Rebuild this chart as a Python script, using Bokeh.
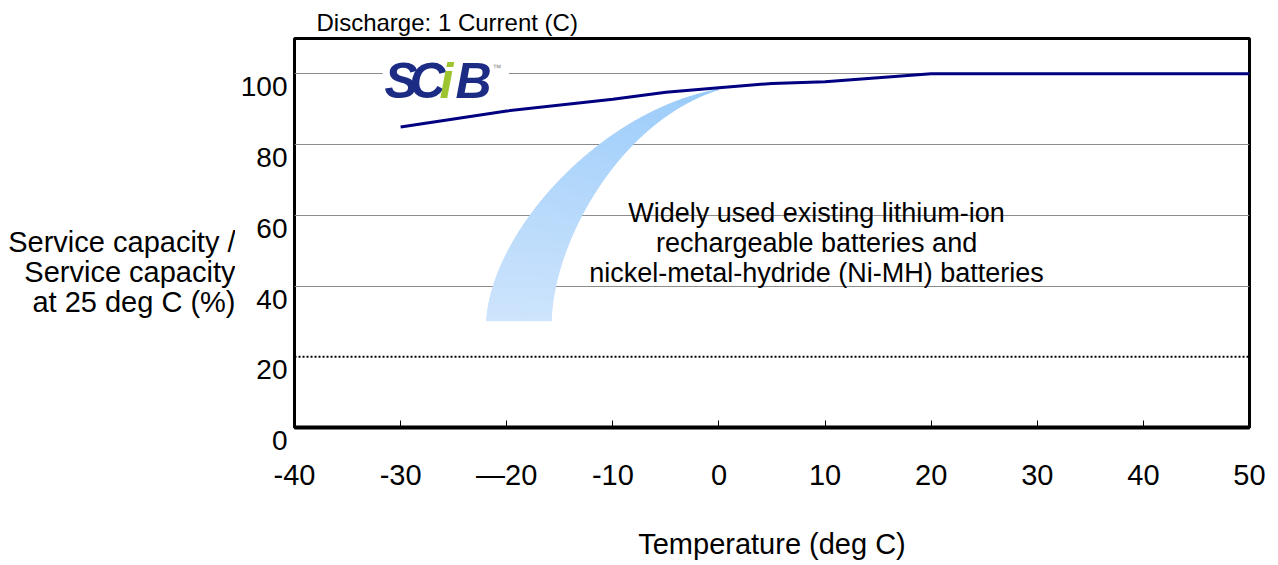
import numpy as np
from bokeh.plotting import figure
from bokeh.layouts import row
from bokeh.models import (Range1d, FixedTicker, Grid, Span, Label, LinearAxis,
                          BoxAnnotation)
from bokeh.core.properties import value
from bokeh.embed import file_html
from bokeh.resources import INLINE

# ---------------- data ----------------
temps = [-30, -20, -10, -5, 0, 5, 10, 20, 30, 40, 50]
scib_capacity = [85.0, 89.5, 92.8, 94.8, 96.1, 97.3, 97.8, 100.0, 100.0, 100.0, 100.0]

x_ticks = [-40, -30, -20, -10, 0, 10, 20, 30, 40, 50]
x_tick_labels = ["-40", "-30", "\u201420", "-10", "0", "10", "20", "30", "40", "50"]
y_ticks = [0, 20, 40, 60, 80, 100]
y_tick_labels = ["0", "20", "40", "60", "80", "100"]
grid_levels = [40, 60, 80, 100]
threshold_level = 20

title_text = "Discharge: 1 Current (C)"
x_title = "Temperature (deg C)"
y_title = "Service capacity /\nService capacity\nat 25 deg C (%)"
note_text = ("Widely used existing lithium-ion\nrechargeable batteries and\n"
             "nickel-metal-hydride (Ni-MH) batteries")

FONT = "Liberation Sans"

# ---------------- layout geometry ----------------
W, H = 1278, 565
LEFT_W = 235            # left panel that holds the y title
FRAME_LEFT = 294
FRAME_RIGHT = 1249
FRAME_TOP = 38
FRAME_BOTTOM = 427
Y0, Y1 = 0, 110
LABEL_DROP_PX = 13      # y tick labels sit a little below their grid lines
Y_LABEL_GAP = 7

# ---------------- main figure ----------------
main_w = W - LEFT_W
p = figure(width=main_w, height=H, x_range=Range1d(-40, 50), y_range=Range1d(Y0, Y1),
           output_backend="svg", toolbar_location=None, y_axis_location=None,
           min_border_left=FRAME_LEFT - LEFT_W, min_border_right=W - FRAME_RIGHT,
           min_border_top=FRAME_TOP, min_border_bottom=H - FRAME_BOTTOM)
p.outline_line_color = "black"
p.outline_line_width = 3
p.xgrid.visible = False
p.ygrid.visible = False
p.background_fill_color = "white"
p.border_fill_color = "white"

p.title.text = title_text
p.title.align = "left"
p.title.offset = 22
p.title.standoff = 6
p.title.text_font = FONT
p.title.text_font_size = "24px"
p.title.text_font_style = "normal"
p.title.text_color = "black"

xa = p.xaxis[0]
xa.ticker = FixedTicker(ticks=x_ticks)
xa.major_label_overrides = {t: l for t, l in zip(x_ticks, x_tick_labels)}
xa.major_label_text_font = FONT
xa.major_label_text_font_size = "29px"
xa.major_label_text_color = "black"
xa.major_label_standoff = 31
xa.axis_line_color = "black"
xa.axis_line_width = 4
xa.major_tick_in = 7
xa.major_tick_out = 0
xa.major_tick_line_color = "black"
xa.major_tick_line_width = 1
xa.minor_tick_line_color = None
xa.axis_label = x_title
xa.axis_label_text_font = FONT
xa.axis_label_text_font_size = "29px"
xa.axis_label_text_font_style = "normal"
xa.axis_label_text_color = "black"
xa.axis_label_standoff = 34

# y axis: labels drawn through a slightly shifted range so they sit below the grid lines
ppu = (FRAME_BOTTOM - FRAME_TOP) / (Y1 - Y0)
shift = LABEL_DROP_PX / ppu
p.extra_y_ranges = {"ylab": Range1d(Y0 + shift, Y1 + shift)}
ya = LinearAxis(y_range_name="ylab", ticker=FixedTicker(ticks=y_ticks),
                major_label_overrides={t: l for t, l in zip(y_ticks, y_tick_labels)},
                axis_line_color=None, major_tick_line_color=None, minor_tick_line_color=None,
                major_tick_in=0, major_tick_out=0, minor_tick_in=0, minor_tick_out=0,
                major_label_standoff=Y_LABEL_GAP, major_label_text_font=FONT,
                major_label_text_font_size="28px", major_label_text_color="black")
p.add_layout(ya, "left")
# the bottom tick label ("0") falls below the shifted range, so it is drawn as a label
p.add_layout(Label(x=-40, y=y_ticks[0], x_offset=-Y_LABEL_GAP, y_offset=-LABEL_DROP_PX,
                   text=y_tick_labels[0], text_font=FONT, text_font_size="28px",
                   text_color="black", text_align="right", text_baseline="middle"), "right")

# horizontal grid lines and the dotted 20 % line
p.add_layout(Grid(dimension=1, ticker=FixedTicker(ticks=grid_levels),
                  grid_line_color="#8c8c8c", grid_line_width=1))
p.add_layout(Span(location=threshold_level, dimension="width", line_color="black",
                  line_width=2, line_dash="2 2"))

# ---------------- curved gradient band (decorative arrow) ----------------
def bez(P, t):
    P = np.asarray(P, dtype=float)
    t = t[:, None]
    return ((1 - t) ** 3 * P[0] + 3 * t * (1 - t) ** 2 * P[1]
            + 3 * t ** 2 * (1 - t) * P[2] + t ** 3 * P[3])

outer_ctrl = [(-21.9, 30.2), (-21.35, 55.7), (-11.15, 89.6), (0.0, 95.6)]
inner_ctrl = [(-15.8, 30.2), (-15.6, 52.9), (-9.3, 86.8), (0.0, 95.6)]
nseg = 48
ts = np.linspace(0, 1, nseg + 1)
O = bez(outer_ctrl, ts)
I = bez(inner_ctrl, ts)
c_bottom = np.array([206, 228, 252])
c_top = np.array([150, 202, 250])
bx, by, bc = [], [], []
for k in range(nseg):
    bx.append([O[k, 0], O[k + 1, 0], I[k + 1, 0], I[k, 0]])
    by.append([O[k, 1], O[k + 1, 1], I[k + 1, 1], I[k, 1]])
    c = c_bottom + (c_top - c_bottom) * ((k + 0.5) / nseg)
    bc.append("#%02x%02x%02x" % tuple(int(round(v)) for v in c))
p.patches(bx, by, fill_color=bc, line_color=bc, line_width=1)

# ---------------- SCiB curve ----------------
p.line(temps, scib_capacity, line_color="#000080", line_width=3)

# ---------------- logo ----------------
p.add_layout(BoxAnnotation(left=-31.7, right=-19.8, bottom=91.0, top=106.0,
                           fill_color="white", fill_alpha=1.0, line_color=None))
logo_navy = "#1c2c84"
logo_green = "#9cc531"
for ch, dx, col in [("S", 90, logo_navy), ("C", 115, logo_navy),
                    ("i", 145, logo_green), ("B", 161, logo_navy)]:
    p.add_layout(Label(x=-40, y=Y1, x_offset=dx, y_offset=-42, text=ch,
                       text_font=FONT, text_font_size="50px", text_font_style="bold italic",
                       text_color=col, text_baseline="middle", text_align="left"))
p.add_layout(Label(x=-40, y=Y1, x_offset=198, y_offset=-29, text="\u2122",
                   text_font=FONT, text_font_size="9px", text_color="#888888",
                   text_baseline="middle"))

# annotation text
p.add_layout(Label(x=9.2, y=52.2, text=note_text, text_font=FONT, text_font_size="27px",
                   text_color="black", text_align="center", text_baseline="middle",
                   text_line_height=1.0))

# ---------------- left panel: y title (shares the y scale) ----------------
lf = figure(width=LEFT_W, height=H, x_range=Range1d(0, LEFT_W), y_range=p.y_range,
            output_backend="svg", toolbar_location=None,
            x_axis_location=None, y_axis_location=None,
            min_border_left=0, min_border_right=0, min_border_top=FRAME_TOP,
            min_border_bottom=H - FRAME_BOTTOM)
lf.outline_line_color = None
lf.grid.visible = False
lf.background_fill_color = "white"
lf.border_fill_color = "white"
lf.text(x=[LEFT_W], y=[44.0], text=[y_title], text_font=value(FONT), text_font_size="29px",
        text_color="black", text_align="right", text_baseline="middle",
        text_line_height=0.95)

layout = row(lf, p)
open("out.html", "w").write(file_html(layout, INLINE))
